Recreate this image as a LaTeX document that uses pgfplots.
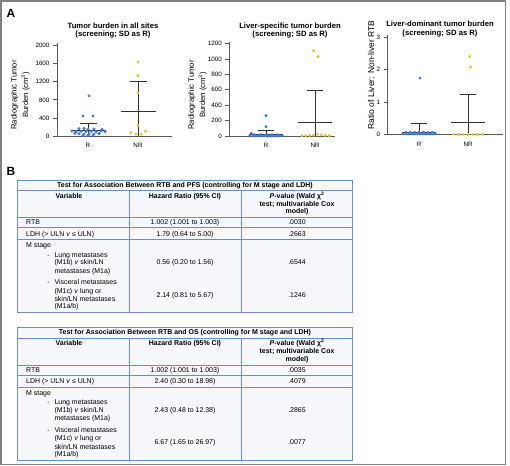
\documentclass[border=0pt]{standalone}
\usepackage{pgfplots}
\pgfplotsset{compat=1.18}
\usepackage{fontspec}
\setmainfont{Liberation Sans}
\definecolor{rblue}{RGB}{62,122,218}
\definecolor{nryel}{RGB}{214,204,48}
\definecolor{errc}{RGB}{50,50,50}
\definecolor{axgray}{RGB}{90,90,90}
\definecolor{tblline}{RGB}{112,142,186}
\definecolor{tblbg}{RGB}{246,248,252}
\definecolor{framec}{RGB}{128,128,128}
\newcommand{\tf}{\fontsize{7}{8.3}\selectfont}
\newcommand{\tfb}{\bfseries\fontsize{7}{8.3}\selectfont}
\newcommand{\ttf}{\bfseries\fontsize{7.7}{8.4}\selectfont}
\newcommand{\ylf}{\fontsize{7.7}{11.5}\selectfont}
\pgfplotsset{
  myax/.style={
    scale only axis, clip=false,
    axis x line*=bottom, axis y line*=left,
    axis line style={draw=axgray, line width=0.8},
    xtick={0,1}, xticklabels={R,NR},
    x tick style={draw=none},
    y tick style={draw=axgray, line width=0.8},
    tick align=outside, major tick length=4bp,
    ymin=0,
    tick label style={font=\fontsize{6.3}{7}\selectfont},
    /pgf/number format/assume math mode=true,
    /pgf/number format/1000 sep={},
  },
  eb/.style={errc, line width=0.9, mark=none},
  rpt/.style={only marks, mark=*, mark size=1.3, rblue},
  npt/.style={only marks, mark=*, mark size=1.3, nryel},
}
\tikzset{tb/.style={anchor=base, inner sep=0, font=\tf},
         tbl/.style={anchor=base west, inner sep=0, font=\tf}}
\newcommand{\tbl}[9]{%
  \fill[tblbg] (17.3,0) rectangle (352.7,-132.3);
  \draw[tblline,line width=0.8] (17.3,0) rectangle (352.7,-132.3);
  \foreach \yy in {-10.7,-37.3,-47.7,-59.3} {\draw[tblline,line width=0.8] (17.3,\yy) -- (352.7,\yy);}
  \draw[tblline,line width=0.8] (129.3,-10.7) -- (129.3,-132.3) (241.3,-10.7) -- (241.3,-132.3);
  \node[tb,font=\tfb] at (185,-7.2) {#1};
  \node[tb,font=\tfb] at (69,-18.2) {Variable};
  \node[tb,font=\tfb] at (185,-18.2) {Hazard Ratio (95\% CI)};
  \node[tb,font=\tfb] at (297,-18.2) {\textit{P}-value (Wald χ\textsuperscript{2}};
  \node[tb,font=\tfb] at (297,-26.2) {test; multivariable Cox};
  \node[tb,font=\tfb] at (297,-33.9) {model)};
  \node[tbl] at (26,-44.5) {RTB};
  \node[tb] at (185,-44.5) {#2};
  \node[tb] at (297,-44.5) {#3};
  \node[tbl] at (26,-56.2) {LDH (> ULN \textit{v} ≤ ULN)};
  \node[tb] at (185,-56.2) {#4};
  \node[tb] at (297,-56.2) {#5};
  \node[tbl] at (26,-67.5) {M stage};
  \node[tbl] at (47.3,-77.2) {-};
  \node[tbl] at (54.3,-77.2) {Lung metastases};
  \node[tbl] at (54.3,-84.9) {(M1b) \textit{v} skin/LN};
  \node[tbl] at (54.3,-93.2) {metastases (M1a)};
  \node[tb] at (185,-84.9) {#6};
  \node[tb] at (297,-84.9) {#7};
  \node[tbl] at (47.3,-104.9) {-};
  \node[tbl] at (54.3,-104.9) {Visceral metastases};
  \node[tbl] at (54.3,-113.2) {(M1c) \textit{v} lung or};
  \node[tbl] at (54.3,-121.5) {skin/LN metastases};
  \node[tbl] at (54.3,-128.9) {(M1a/b)};
  \node[tb] at (185,-117.2) {#8};
  \node[tb] at (297,-117.2) {#9};
}
\begin{document}
\begin{tikzpicture}[x=1bp,y=1bp]
\useasboundingbox (0,0) rectangle (510,466);
\draw[framec, line width=1.6] (0.9,1.5) rectangle (505.5,465.1);
\node[font=\bfseries\fontsize{12}{14}\selectfont, inner sep=0] at (11,453) {A};
\node[font=\bfseries\fontsize{12}{14}\selectfont, inner sep=0] at (11,295) {B};

% ---------- chart 1
\node[align=center, font=\ttf] at (113,435.5) {Tumor burden in all sites\\(screening; SD as R)};
\node[rotate=90, align=center, font=\ylf] at (20.3,371) {Radiographic Tumor\\Burden (cm\textsuperscript{3})};
\begin{axis}[myax, at={(57bp,330bp)}, anchor=south west, width=115bp, height=93bp,
  xmin=-0.62, xmax=1.68, ymax=2060, ytick={0,400,800,1200,1600,2000}]
\addplot[eb] coordinates {(0,0) (0,282)};
\addplot[eb] coordinates {(-0.17,282) (0.17,282)};
\addplot[eb] coordinates {(-0.35,120) (0.35,120)};
\addplot[eb] coordinates {(1,0) (1,1207)};
\addplot[eb] coordinates {(0.83,1207) (1.17,1207)};
\addplot[eb] coordinates {(0.65,540) (1.35,540)};
\addplot[rpt] coordinates {(0.02,889) (-0.1,444) (0.1,444)
 (-0.18,160) (-0.08,165) (0.0,150) (0.12,155) (0.28,150)
 (-0.32,110) (-0.24,95) (-0.14,105) (-0.04,100) (0.06,105) (0.16,100) (0.26,110) (0.34,95)
 (-0.26,60) (-0.18,50) (-0.08,45) (0.02,40) (0.12,45) (0.22,55)
 (-0.1,15) (0.0,10) (0.1,20)};
\addplot[npt] coordinates {(1,1640) (1,1335) (1,955) (1,229) (0.86,73) (0.96,44) (1.06,40) (1.15,104)};
\end{axis}

% ---------- chart 2
\node[align=center, font=\ttf] at (290,435.3) {Liver-specific tumor burden\\(screening; SD as R)};
\node[rotate=90, align=center, font=\ylf] at (197.5,371) {Radiographic Tumor\\Burden (cm\textsuperscript{3})};
\begin{axis}[myax, at={(229.3bp,330bp)}, anchor=south west, width=105.7bp, height=94bp,
  xmin=-0.75, xmax=1.407, ymax=1221, ytick={0,200,400,600,800,1000,1200}]
\addplot[eb] coordinates {(0,0) (0,69)};
\addplot[eb] coordinates {(-0.17,69) (0.17,69)};
\addplot[eb] coordinates {(-0.35,25) (0.35,25)};
\addplot[eb] coordinates {(1,0) (1,597)};
\addplot[eb] coordinates {(0.83,597) (1.17,597)};
\addplot[eb] coordinates {(0.65,182) (1.35,182)};
\addplot[rpt] coordinates {(0,264) (0,121) (-0.3,35)
 (-0.33,3) (-0.27,3) (-0.21,3) (-0.15,3) (-0.09,3) (-0.03,3) (0.03,3) (0.09,3) (0.15,3) (0.21,3) (0.27,3) (0.33,3)
 (-0.24,16) (-0.12,16) (0,16) (0.12,16) (0.24,16)};
\addplot[npt] coordinates {(0.97,1108) (1.06,1030) (0.73,3) (0.81,5) (0.89,8) (0.97,12) (1.05,22) (1.13,15) (1.21,8) (1.29,3)};
\end{axis}

% ---------- chart 3
\node[align=center, font=\ttf] at (440,436.8) {Liver-dominant tumor burden\\(screening; SD as R)};
\node[rotate=90, font=\fontsize{8.5}{10}\selectfont] at (371,391) {Ratio of Liver: Non-liver RTB};
\begin{axis}[myax, at={(387.7bp,331.5bp)}, anchor=south west, width=115.6bp, height=99.5bp,
  xmin=-0.64, xmax=1.72, ymax=3.07, ytick={0,1,2,3}]
\addplot[eb] coordinates {(0,0) (0,0.35)};
\addplot[eb] coordinates {(-0.17,0.35) (0.17,0.35)};
\addplot[eb] coordinates {(-0.35,0.06) (0.35,0.06)};
\addplot[eb] coordinates {(1,0) (1,1.24)};
\addplot[eb] coordinates {(0.83,1.24) (1.17,1.24)};
\addplot[eb] coordinates {(0.65,0.36) (1.35,0.36)};
\addplot[rpt] coordinates {(0.02,1.74)
 (-0.33,0.02) (-0.27,0.02) (-0.21,0.02) (-0.15,0.02) (-0.09,0.02) (-0.03,0.02) (0.03,0.02) (0.09,0.02) (0.15,0.02) (0.21,0.02) (0.27,0.02) (0.33,0.02)
 (-0.27,0.07) (-0.18,0.07) (-0.09,0.07) (0,0.07) (0.09,0.07) (0.18,0.07) (0.27,0.07)};
\addplot[npt] coordinates {(1.03,2.41) (1.05,2.08) (0.7,0) (0.8,0) (0.9,0) (1,0) (1.1,0) (1.2,0) (1.3,0)};
\end{axis}

% ---------- tables
\begin{scope}[shift={(0,286)}]
\tbl{Test for Association Between RTB and PFS (controlling for M stage and LDH)}%
{1.002 (1.001 to 1.003)}{.0030}{1.79 (0.64 to 5.00)}{.2663}{0.56 (0.20 to 1.56)}{.6544}{2.14 (0.81 to 5.67)}{.1246}
\end{scope}
\begin{scope}[shift={(0,138.3)}]
\tbl{Test for Association Between RTB and OS (controlling for M stage and LDH)}%
{1.002 (1.001 to 1.003)}{.0035}{2.40 (0.30 to 18.98)}{.4079}{2.43 (0.48 to 12.38)}{.2865}{6.67 (1.65 to 26.97)}{.0077}
\end{scope}
\end{tikzpicture}
\end{document}
